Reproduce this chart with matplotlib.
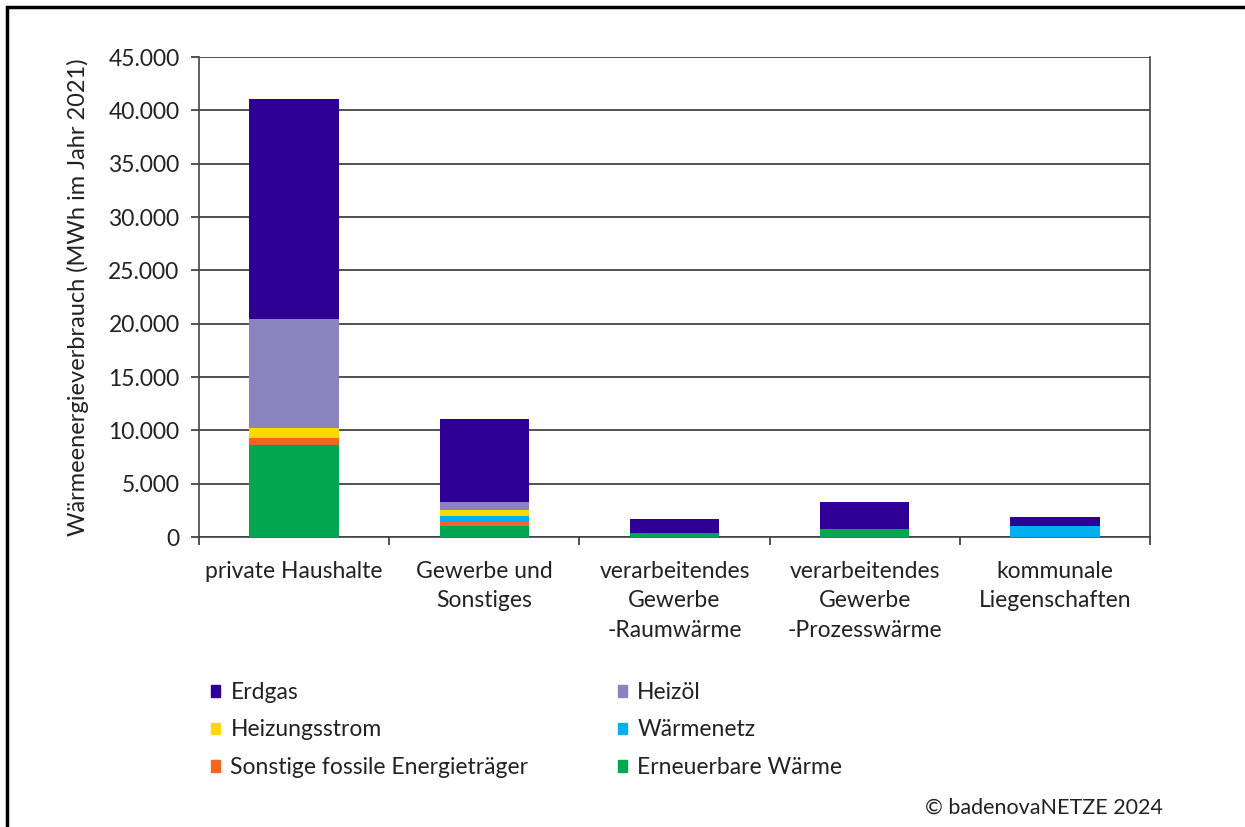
import matplotlib.pyplot as plt
import matplotlib.patches as mpatches
from matplotlib.ticker import FuncFormatter
import numpy as np

plt.rcParams['font.family'] = ['Lato', 'DejaVu Sans']

# categories and values (MWh)
categories = ['private Haushalte', 'Gewerbe und\nSonstiges', 'verarbeitendes\nGewerbe\n-Raumwärme',
              'verarbeitendes\nGewerbe\n-Prozesswärme', 'kommunale\nLiegenschaften']
erneuerbar = [8600, 1030, 350, 750, 0]
sonstige_fossil = [650, 370, 0, 0, 0]
waermenetz = [0, 570, 0, 0, 1030]
heizstrom = [950, 560, 0, 0, 0]
heizoel = [10250, 750, 0, 0, 0]
erdgas = [20600, 7780, 1300, 2530, 850]

# bottom to top
series = [
    ('Erneuerbare Wärme', erneuerbar, '#00A650'),
    ('Sonstige fossile Energieträger', sonstige_fossil, '#F26522'),
    ('Wärmenetz', waermenetz, '#00B0F0'),
    ('Heizungsstrom', heizstrom, '#FFD800'),
    ('Heizöl', heizoel, '#8B84BC'),
    ('Erdgas', erdgas, '#2E0096'),
]

fig = plt.figure(figsize=(12.45, 8.27), dpi=100)
ax = fig.add_axes([199 / 1245, 1 - 537 / 827, (1150 - 199) / 1245, (537 - 57) / 827])

x = np.arange(len(categories))
bottom = np.zeros(len(categories))
handles = {}
for name, vals, col in series:
    ax.bar(x, vals, 0.47, bottom=bottom, color=col, zorder=3)
    handles[name] = mpatches.Patch(color=col)
    bottom += np.array(vals)

ax.set_xlim(-0.5, len(categories) - 0.5)
ax.set_ylim(0, 45000)
ax.set_yticks(np.arange(0, 45001, 5000))
ax.yaxis.set_major_formatter(FuncFormatter(lambda v, p: '0' if v == 0 else f'{int(v):,}'.replace(',', '.')))
ax.yaxis.grid(True, color='#333333', linewidth=1.2, zorder=0)
ax.set_xticks(np.arange(-0.5, len(categories), 1.0))
ax.set_xticklabels([])
ax.set_xticks(x, minor=True)
ax.set_xticklabels(categories, minor=True, fontsize=16.5, color='#222222', linespacing=1.5, va='top')
ax.tick_params(axis='x', which='minor', length=0, pad=17)
ax.tick_params(axis='x', which='major', length=6, color='#333333', width=1.2)
ax.tick_params(axis='y', length=6, color='#333333', width=1.2, labelsize=16.5, labelcolor='#222222', pad=8)
for s in ax.spines.values():
    s.set_color('#444444')
    s.set_linewidth(1.2)
ax.spines['top'].set_visible(False)
ax.set_ylabel('Wärmeenergieverbrauch (MWh im Jahr 2021)', fontsize=17, color='#222222', labelpad=14)

order = ['Erdgas', 'Heizungsstrom', 'Sonstige fossile Energieträger', 'Heizöl', 'Wärmenetz', 'Erneuerbare Wärme']
leg = fig.legend([handles[n] for n in order], order, ncol=2, loc='upper left',
                 bbox_to_anchor=(211 / 1245, 1 - 682 / 827), frameon=False, fontsize=16.5,
                 handlelength=0.4, handleheight=0.4, handletextpad=0.45, labelspacing=0.72,
                 columnspacing=3.9, borderaxespad=0, borderpad=0)
for t in leg.get_texts():
    t.set_color('#222222')

fig.text(1163 / 1245, 1 - 808 / 827, '© badenovaNETZE 2024', fontsize=15.5, color='#222222', ha='right', va='center')

fig.add_artist(mpatches.Rectangle((7 / 1245, -0.1), 1.2, 1 - 7 / 827 + 0.1, transform=fig.transFigure,
                                  fill=False, edgecolor='black', linewidth=2.5))

plt.savefig('out.png', dpi=100)
